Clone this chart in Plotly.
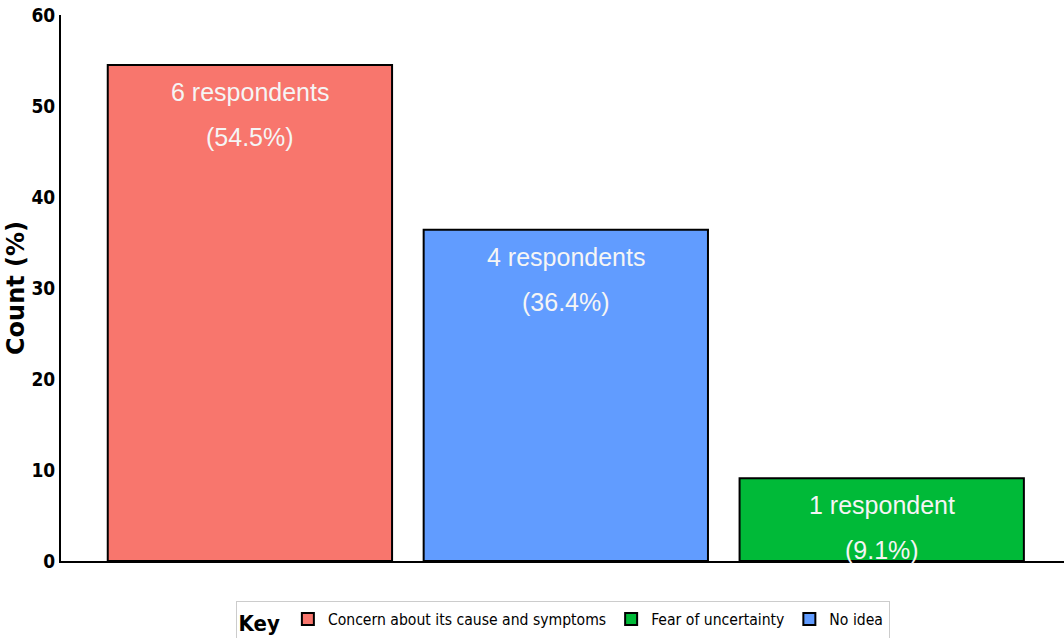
import plotly.graph_objects as go

# Response categories in bar order, with their share and respondent counts
categories = ["Concern about its cause and symptoms", "No idea", "Fear of uncertainty"]
percent = [54.5, 36.4, 9.1]
respondents = [6, 4, 1]
colors = ["#F8766D", "#619CFF", "#00BA38"]
legend_rank = [1, 3, 2]
y_ticks = [0, 10, 20, 30, 40, 50, 60]

NARROW = "DejaVu Sans Condensed, Liberation Sans Narrow, Arial Narrow, Liberation Sans, Arial, sans-serif"
SANS = "Liberation Sans, Arial, sans-serif"
WIDE = "DejaVu Sans, Verdana, sans-serif"

fig = go.Figure()
for i, (cat, pct, col, rank) in enumerate(zip(categories, percent, colors, legend_rank)):
    fig.add_trace(go.Bar(
        x=[i], y=[pct], name=cat, width=0.9,
        marker=dict(color=col, line=dict(color="black", width=2)),
        legendrank=rank, hoverinfo="skip",
    ))

# Two-line labels near the top of each bar
for i, (pct, n) in enumerate(zip(percent, respondents)):
    word = "respondent" if n == 1 else "respondents"
    for text, shift in ((f"{n} {word}", -27), (f"({pct}%)", -72)):
        fig.add_annotation(
            x=i, y=pct, text=text, showarrow=False, yanchor="middle",
            yshift=shift, font=dict(family=SANS, size=25, color="#F5F5F5"),
        )

fig.update_layout(
    width=1064, height=638,
    margin=dict(l=61, r=0, t=15, b=77, autoexpand=False),
    paper_bgcolor="white", plot_bgcolor="white",
    bargap=0.1, showlegend=True,
    legend=dict(
        orientation="h", x=0.5, xanchor="center", y=-0.074, yanchor="top",
        bordercolor="#CCCCCC", borderwidth=1,
        title=dict(text="<b>Key</b>", font=dict(family=NARROW, size=22, color="black")),
        font=dict(family=NARROW, size=15.6, color="black"),
    ),
)
fig.update_xaxes(
    range=[-0.598, 2.577], showticklabels=False, ticks="",
    showline=True, linecolor="black", linewidth=2, showgrid=False, zeroline=False,
)
fig.update_yaxes(
    range=[0, 60], tickvals=y_ticks, ticktext=[f"<b>{v}</b>" for v in y_ticks],
    tickfont=dict(family=NARROW, size=19, color="black"),
    showline=True, linecolor="black", linewidth=2, showgrid=False, zeroline=False,
    ticks="", ticklen=3,
    title=dict(text="<b>Count (%)</b>", font=dict(family=WIDE, size=24, color="black"), standoff=0),
)

fig.write_html("out.html")
